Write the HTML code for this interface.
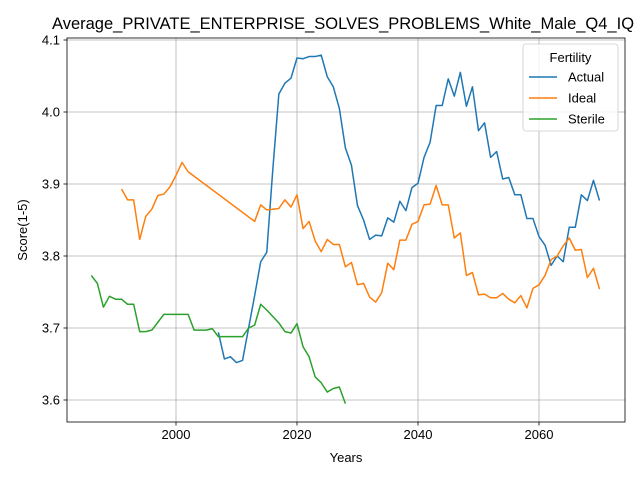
<!DOCTYPE html>
<html><head><meta charset="utf-8"><style>body{margin:0;background:#fff}svg{display:block;font-family:"Liberation Sans","DejaVu Sans",sans-serif}</style></head>
<body>
<svg id="c" width="640" height="480" xmlns="http://www.w3.org/2000/svg"></svg>
<script>
const actualYears=[2007,2008,2009,2010,2011,2012,2013,2014,2015,2016,2017,2018,2019,2020,2021,2022,2023,2024,2025,2026,2027,2028,2029,2030,2031,2032,2033,2034,2035,2036,2037,2038,2039,2040,2041,2042,2043,2044,2045,2046,2047,2048,2049,2050,2051,2052,2053,2054,2055,2056,2057,2058,2059,2060,2061,2062,2063,2064,2065,2066,2067,2068,2069,2070];
const actualValues=[3.694,3.657,3.660,3.652,3.655,3.700,3.745,3.792,3.805,3.920,4.025,4.040,4.047,4.075,4.074,4.077,4.077,4.079,4.049,4.035,4.005,3.950,3.926,3.870,3.850,3.823,3.829,3.828,3.853,3.847,3.876,3.863,3.895,3.901,3.937,3.958,4.009,4.009,4.046,4.022,4.055,4.008,4.035,3.974,3.985,3.937,3.945,3.907,3.909,3.885,3.885,3.852,3.852,3.827,3.815,3.787,3.800,3.792,3.840,3.840,3.885,3.877,3.905,3.877];
const idealYears=[1991,1992,1993,1994,1995,1996,1997,1998,1999,2000,2001,2002,2013,2014,2015,2016,2017,2018,2019,2020,2021,2022,2023,2024,2025,2026,2027,2028,2029,2030,2031,2032,2033,2034,2035,2036,2037,2038,2039,2040,2041,2042,2043,2044,2045,2046,2047,2048,2049,2050,2051,2052,2053,2054,2055,2056,2057,2058,2059,2060,2061,2062,2063,2064,2065,2066,2067,2068,2069,2070];
const idealValues=[3.893,3.878,3.878,3.823,3.855,3.865,3.884,3.886,3.896,3.912,3.930,3.917,3.848,3.871,3.864,3.865,3.866,3.878,3.868,3.885,3.838,3.848,3.821,3.806,3.823,3.816,3.816,3.785,3.791,3.760,3.762,3.743,3.736,3.749,3.790,3.781,3.822,3.822,3.844,3.848,3.871,3.872,3.898,3.871,3.871,3.825,3.832,3.773,3.777,3.746,3.747,3.742,3.742,3.748,3.740,3.735,3.745,3.728,3.755,3.760,3.773,3.795,3.800,3.814,3.825,3.808,3.809,3.770,3.783,3.754];
const sterileYears=[1986,1987,1988,1989,1990,1991,1992,1993,1994,1995,1996,1997,1998,1999,2000,2001,2002,2003,2004,2005,2006,2007,2008,2009,2010,2011,2012,2013,2014,2015,2016,2017,2018,2019,2020,2021,2022,2023,2024,2025,2026,2027,2028];
const sterileValues=[3.773,3.762,3.729,3.744,3.740,3.740,3.733,3.733,3.695,3.695,3.697,3.708,3.719,3.719,3.719,3.719,3.719,3.697,3.697,3.697,3.699,3.688,3.688,3.688,3.688,3.688,3.700,3.704,3.733,3.725,3.716,3.707,3.695,3.693,3.706,3.674,3.660,3.632,3.624,3.611,3.616,3.618,3.595];
const xTicks=[2000,2020,2040,2060];
const yTicks=[3.6,3.7,3.8,3.9,4.0,4.1];

const NS="http://www.w3.org/2000/svg";
const svg=document.getElementById('c');
const L=67,R=625,T=38,B=422;
const X=v=>176+(v-2000)*6.05;
const Y=v=>400-(v-3.6)*720;
function mk(t,a,p){const e=document.createElementNS(NS,t);for(const k in a)e.setAttribute(k,a[k]);(p||svg).appendChild(e);return e;}

const title=mk('text',{x:52,y:29,'font-size':16.5,fill:'#000'});
title.textContent='Average_PRIVATE_ENTERPRISE_SOLVES_PROBLEMS_White_Male_Q4_IQ';



xTicks.forEach(t=>{
  const g=mk('line',{x1:X(t),x2:X(t),y1:T,y2:B,stroke:'#b0b0b0','stroke-width':0.8});
  
  
  mk('line',{x1:X(t),x2:X(t),y1:B,y2:B+3.5,stroke:'#000','stroke-width':0.8});
  const tx=mk('text',{x:X(t),y:B+17,'font-size':13,'text-anchor':'middle'});
  tx.textContent=t;
  
  
});
yTicks.forEach(t=>{
  const g=mk('line',{x1:L,x2:R,y1:Y(t),y2:Y(t),stroke:'#b0b0b0','stroke-width':0.8});
  
  
  mk('line',{x1:L-3.5,x2:L,y1:Y(t),y2:Y(t),stroke:'#000','stroke-width':0.8});
  const tx=mk('text',{x:L-7,y:Y(t)+4.5,'font-size':13,'text-anchor':'end'});
  tx.textContent=t.toFixed(1);
  
  
});

function series(xs,vs,color,name){
  const p=mk('polyline',{points:xs.map((x,i)=>X(x)+','+Y(vs[i])).join(' '),fill:'none',stroke:color,'stroke-width':1.5,'stroke-linejoin':'round'});
  
  
}
series(actualYears,actualValues,'#1f77b4','actual-line');
series(idealYears,idealValues,'#ff7f0e','ideal-line');
series(sterileYears,sterileValues,'#2ca02c','sterile-line');

const fr=mk('rect',{x:L,y:T,width:R-L,height:B-T,fill:'none',stroke:'#000','stroke-width':0.8});



const xl=mk('text',{x:(L+R)/2,y:462,'font-size':13,'text-anchor':'middle'});
xl.textContent='Years';


const yl=mk('text',{x:0,y:0,'font-size':13,'text-anchor':'middle',transform:'translate(27,230) rotate(-90)'});
yl.textContent='Score(1-5)';



const lg=mk('g',{});


mk('rect',{x:523,y:44,width:95,height:87,rx:3,fill:'#fff','fill-opacity':0.8,stroke:'#ccc','stroke-width':0.8},lg);
const lt=mk('text',{x:570.5,y:62,'font-size':13,'text-anchor':'middle'},lg);
lt.textContent='Fertility';


[['Actual','#1f77b4'],['Ideal','#ff7f0e'],['Sterile','#2ca02c']].forEach((d,i)=>{
  const y=77+i*21;
  const ln=mk('line',{x1:529,x2:557,y1:y,y2:y,stroke:d[1],'stroke-width':1.5},lg);
  
  
  const t=mk('text',{x:568,y:y+4.5,'font-size':13},lg);
  t.textContent=d[0];
  
  
});
</script>
</body></html>
